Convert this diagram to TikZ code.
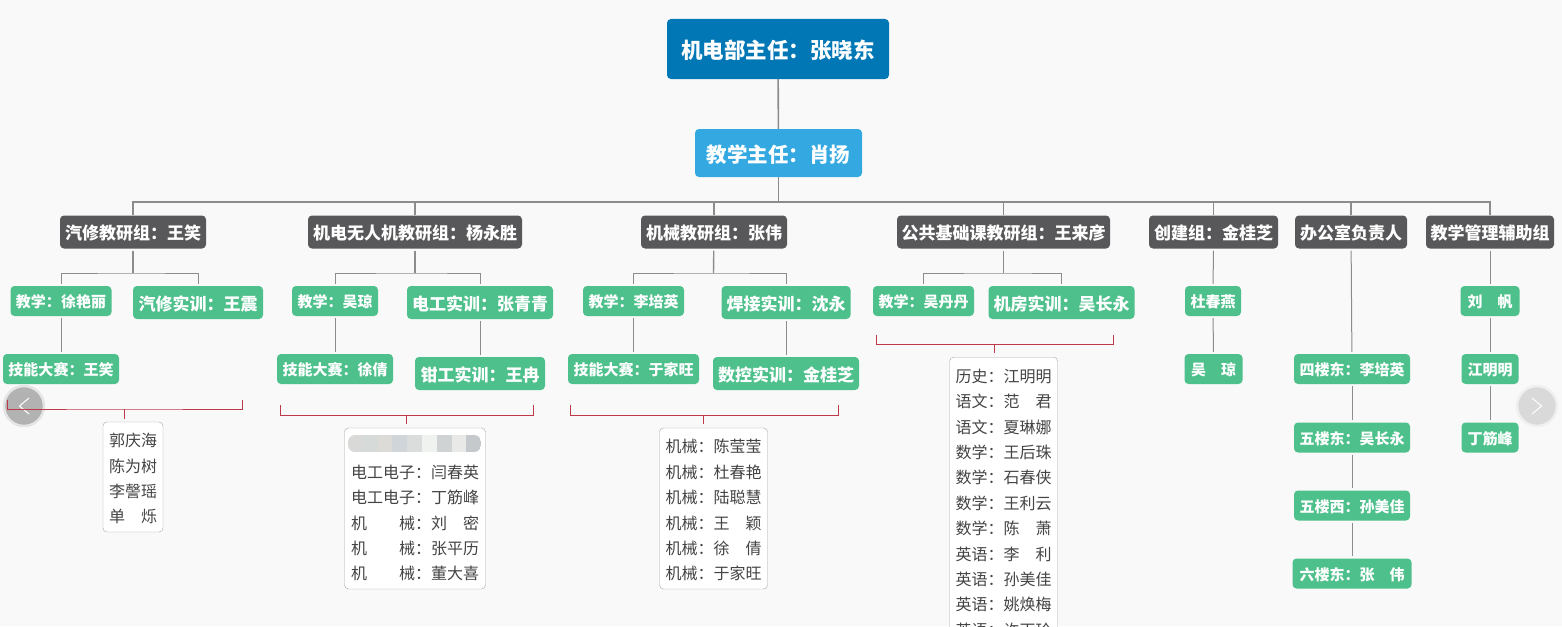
\documentclass[tikz,border=0pt]{standalone}
\usepackage{fontspec}
\setmainfont{Noto Sans CJK SC}
\definecolor{bgcol}{HTML}{F9F9F9}
\definecolor{bosscol}{HTML}{0277B5}
\definecolor{subcol}{HTML}{34A9E1}
\definecolor{darkcol}{HTML}{58585A}
\definecolor{greencol}{HTML}{4DC08B}
\definecolor{linecol}{HTML}{8C8C8C}
\definecolor{redcol}{HTML}{C0394B}
\definecolor{textcol}{HTML}{444444}
\newcommand{\topline}{\rule{0pt}{17pt}}
\tikzset{
    topbox/.style={rounded corners=4,fill=bosscol,text=white,inner sep=0,text height=21.5,text depth=2.2,font=\bfseries\fontsize{21.5}{21.5}\selectfont},
    subbox/.style={rounded corners=4,fill=subcol,text=white,inner sep=0,text height=20.5,text depth=2,font=\bfseries\fontsize{20.5}{20.5}\selectfont},
    groupbox/.style={rounded corners=4,fill=darkcol,text=white,inner sep=0,minimum height=33,text height=17,text depth=1.7,font=\bfseries\fontsize{17}{17}\selectfont},
    smallbox/.style={rounded corners=4,fill=greencol,text=white,inner sep=0,minimum height=30,text height=15,text depth=1.5,font=\bfseries\fontsize{15}{15}\selectfont},
    bigbox/.style={rounded corners=4,fill=greencol,text=white,inner sep=0,minimum height=33,text height=17,text depth=1.7,font=\bfseries\fontsize{17}{17}\selectfont},
    listbox/.style={rounded corners=4,draw=black!35,fill=white,text=textcol,inner xsep=0,inner ysep=0,align=left,font=\fontsize{16}{25.4}\selectfont},
    link/.style={draw=linecol,line width=1,shorten <=2,shorten >=2},
    mainlink/.style={draw=linecol,line width=1.6},
    redline/.style={draw=redcol,line width=1},
    navbtn/.style={circle,inner sep=0,minimum size=40,line width=2.5}
}
\begin{document}
\begin{tikzpicture}[x=1pt,y=-1pt]
    \useasboundingbox (0,0) rectangle (1562,626);
    \clip (0,0) rectangle (1562,626);
    \fill[bgcol] (0,0) rectangle (1562,626);
    %% head
    \node[topbox,minimum width=222,minimum height=60] (boss) at (778,49) {机电部主任：张晓东};
    \node[subbox,minimum width=167,minimum height=48] (sub) at (778.5,153) {教学主任：肖扬};
    \draw[mainlink] (boss) -- (sub);
    \coordinate (busTop) at (778.5,202);
    \draw[mainlink] (sub) -- (busTop);
    %% groups
    \foreach \n/\x/\w/\t in {gA/133/146/汽修教研组：王笑,gB/415/214/机电无人机教研组：杨永胜,gC/714/146/机械教研组：张伟,gD/1003.5/213/公共基础课教研组：王来彦,gE/1213.5/129/创建组：金桂芝,gF/1351/112/办公室负责人,gG/1490/128/教学管理辅助组}{
        \node[groupbox,minimum width=\w] (\n) at (\x,232) {\t};
        \draw[draw=linecol,line width=1.2] (\n.north) |- (busTop);
    }
    %% first row
    \foreach \n/\x/\w/\t in {aA/61/101/教学：徐艳丽,bA/335/86/教学：吴琼,cA/633.5/101/教学：李培英,dA/923.5/101/教学：吴丹丹,eA/1213/56/杜春燕,gA2/1490/59/刘　帆}{
        \node[smallbox,minimum width=\w] (\n) at (\x,301) {\t};
    }
    \foreach \n/\x/\w/\t in {aB/198/130/汽修实训：王震,bB/480/146/电工实训：张青青,cB/786/129/焊接实训：沈永,dB/1061.5/146/机房实训：吴长永}{
        \node[bigbox,minimum width=\w] (\n) at (\x,302.5) {\t};
    }
    %% second row
    \foreach \n/\x/\w/\t in {aC/61/116/技能大赛：王笑,bC/335/116/技能大赛：徐倩,cC/633.5/131/技能大赛：于家旺,eB/1213.5/58/吴　琼,fA/1352/116/四楼东：李培英,gB2/1490/57/江明明}{
        \node[smallbox,minimum width=\w] (\n) at (\x,369) {\t};
    }
    \foreach \n/\x/\w/\t in {bD/480/130/钳工实训：王冉,cD/786/146/数控实训：金桂芝}{
        \node[bigbox,minimum width=\w] (\n) at (\x,373.5) {\t};
    }
    %% lower rows
    \node[smallbox,minimum width=116] (fB) at (1352,437.5) {五楼东：吴长永};
    \node[smallbox,minimum width=116] (fC) at (1352,505.5) {五楼西：孙美佳};
    \node[smallbox,minimum width=119] (fD) at (1352,573.5) {六楼东：张　伟};
    \node[smallbox,minimum width=57] (gC2) at (1490,437.5) {丁筋峰};
    %% connectors
    \foreach \g/\l/\r/\x in {gA/aA/aB/133,gB/bA/bB/415,gC/cA/cB/713.5,gD/dA/dB/1003.5}{
        \coordinate (bus\g) at (\x,273);
        \draw[link,line width=1.4,shorten >=0] (\g) -- (bus\g);
        \draw[link] (\l.north) |- (bus\g) -| (\r.north);
    }
    \foreach \a/\b in {aA/aC,bA/bC,bB/bD,cA/cC,cB/cD,gE/eA,eA/eB,gF/fA,fA/fB,fB/fC,fC/fD,gG/gA2,gA2/gB2,gB2/gC2}
        \draw[link] (\a) -- (\b);
    %% paging buttons
    \node[navbtn,draw=black!10,fill=black!30] (navL) at (24,406) {};
    \node[navbtn,draw=black!6,fill=black!15] (navR) at (1537,406) {};
    \draw[white,line width=1] (29,398) -- (19.5,406) -- (29,414);
    \draw[white,line width=1] (1532,398) -- (1541.5,406) -- (1532,414);
    %% member lists
    \node[listbox,minimum width=60,minimum height=110] (lA) at (133,477) {\topline 郭庆海\\陈为树\\李謦瑶\\单　烁};
    \node[listbox,minimum width=141,minimum height=161] (lB) at (415,508.5) {\topline\phantom{电工}\\电工电子：闫春英\\电工电子：丁筋峰\\机　　械：刘　密\\机　　械：张平历\\机　　械：董大喜};
    \node[listbox,minimum width=108,minimum height=161] (lC) at (713.5,508.5) {\topline 机械：陈莹莹\\机械：杜春艳\\机械：陆聪慧\\机械：王　颖\\机械：徐　倩\\机械：于家旺};
    \node[listbox,anchor=north,minimum width=108,inner ysep=8] (lD) at (1003.7,357) {\topline 历史：江明明\\语文：范　君\\语文：夏琳娜\\数学：王后珠\\数学：石春侠\\数学：王利云\\数学：陈　萧\\英语：李　利\\英语：孙美佳\\英语：姚焕梅\\英语：许丙玲};
    %% blurred line
    \begin{scope}
        \clip[rounded corners=7] (348,435) rectangle (481,452);
        \foreach \i/\c in {0/D9DAD8,1/D6DAD8,2/DCDBD8,3/CFD5D8,4/DBDCDC,5/F0F2F0,6/CFD3D3,7/E9E9E7,8/C5C9CB}{
            \definecolor{blurcol}{HTML}{\c}
            \fill[blurcol] (348+\i*14.8,435) rectangle ++(14.8,17);
        }
    \end{scope}
    %% brackets
    \foreach \n/\l/\r/\m/\t/\b/\s in {A/7/242.7/124.3/400/409/418.7,B/280.7/533.3/406.3/405.3/415.3/424.3,C/570.7/838/703.7/405.3/415.3/424.3,D/876/1113.7/994.3/334.7/344.3/353}{
        \coordinate (brL\n) at (\l,\t);
        \coordinate (brR\n) at (\r,\t);
        \coordinate (brM\n) at (\m,\b);
        \coordinate (brS\n) at (\m,\s);
        \draw[redline] (brL\n) |- (brM\n) -| (brR\n);
        \draw[redline] (brM\n) -- (brS\n);
    }
\end{tikzpicture}
\end{document}
